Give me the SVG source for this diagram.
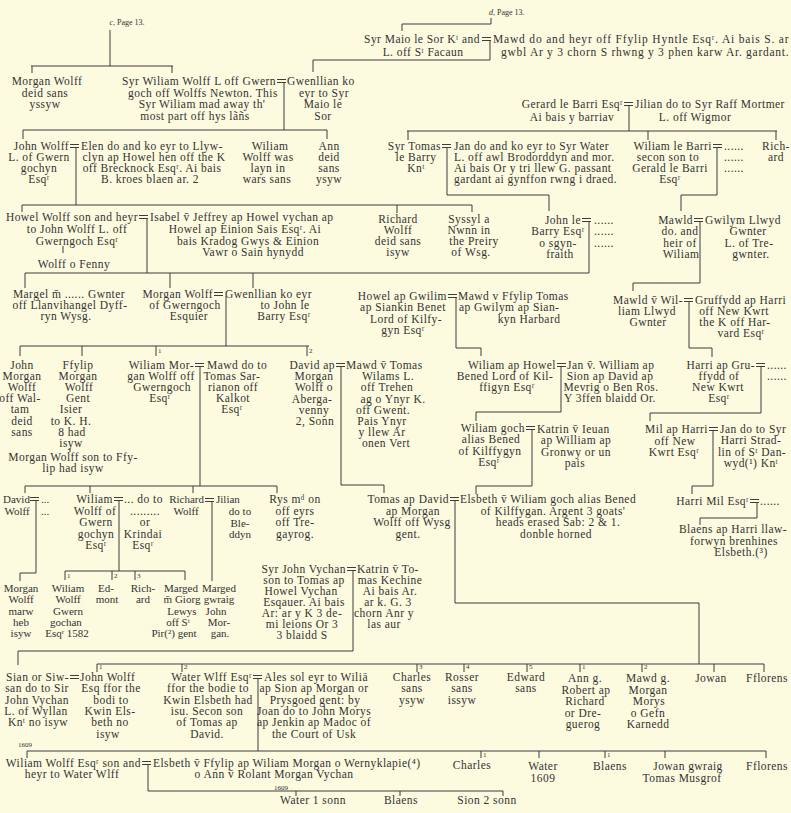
<svg xmlns="http://www.w3.org/2000/svg" width="791" height="813" viewBox="0 0 791 813">
<style>
text{font-family:"Liberation Serif","DejaVu Serif",serif;font-size:11.5px;letter-spacing:0.45px;fill:#333}
.m{text-anchor:middle}
.e{text-anchor:end}
.n{font-size:11px;letter-spacing:0}
.s{font-size:7px;letter-spacing:0}
.p{font-size:8px;letter-spacing:0}
.ln{stroke:#3d3d3d;stroke-width:1;fill:none}
</style>
<defs><path id="eq" d="M0,-1.5H9M0,1.5H9"/></defs>
<rect width="791" height="813" fill="#fcfadf"/>
<g id="connectors" class="ln">
<path d="M110,30V66M31,66H173M32,66V73M172,66V73"/>
<path d="M491,18V24H402V31"/>
<path d="M490,40V60H313V72"/>
<path d="M284,82V130M23,130H327M23,130V139M327,130V139"/>
<path d="M76,147V205M22,205H472M22,205V212M397,205V213M472,205V212"/>
<path d="M447,147V195H549V211"/>
<path d="M629,105V131M407,131H777M408,131V140M648,131V140M776,131V140"/>
<path d="M717,147V195H681V211"/>
<path d="M147,218V273M25,273H589M25,273V288M170,273V288M253,273V288"/>
<path d="M63,246V253"/>
<path d="M589,221V273"/>
<path d="M700,221V283H633V291"/>
<path d="M226,296V346M20,346H309M20,346V356M82,346V356M156,346V356M307,346V356"/>
<path d="M456,297V348H481V356"/>
<path d="M689,301V348H712V357"/>
<path d="M200,366V486M25,486H277M25,486V493M90,486V493M193,486V493M277,486V493"/>
<path d="M341,366V485H384V493"/>
<path d="M561,366V412H476V421"/>
<path d="M761,366V413H650V421"/>
<path d="M70,448V452"/>
<path d="M532,429V486H476V494"/>
<path d="M713,430V486H692V494"/>
<path d="M36,500V573H20V581"/>
<path d="M119,500V571M65,571H185M65,571V580M112,571V580M135,571V580M185,571V580"/>
<path d="M212,501V581"/>
<path d="M455,500V603H699V664"/>
<path d="M757,502V518H700V525"/>
<path d="M353,570V651H18V665"/>
<path d="M97,664H764M97,664V672M182,664V672M417,664V672M464,664V672M527,664V672M580,664V672M642,664V672M714,664V672M764,664V672"/>
<path d="M258,678V751M27,751H766M27,751V758M481,751V758M539,751V758M605,751V758M665,751V758M766,751V758"/>
<path d="M148,764V791H503M296,791V796M400,791V796M503,791V796"/>
<use href="#eq" x="482" y="39"/>
<use href="#eq" x="277" y="81"/>
<use href="#eq" x="70" y="146"/>
<use href="#eq" x="442" y="146"/>
<use href="#eq" x="624" y="104"/>
<use href="#eq" x="713" y="146"/>
<use href="#eq" x="139" y="217"/>
<use href="#eq" x="582" y="220"/>
<use href="#eq" x="694" y="220"/>
<use href="#eq" x="214" y="294"/>
<use href="#eq" x="448" y="296"/>
<use href="#eq" x="684" y="300"/>
<use href="#eq" x="195" y="365"/>
<use href="#eq" x="336" y="365"/>
<use href="#eq" x="557" y="365"/>
<use href="#eq" x="756" y="365"/>
<use href="#eq" x="526" y="428"/>
<use href="#eq" x="709" y="429"/>
<use href="#eq" x="30" y="499"/>
<use href="#eq" x="114" y="499"/>
<use href="#eq" x="205" y="500"/>
<use href="#eq" x="450" y="499"/>
<use href="#eq" x="750" y="501"/>
<use href="#eq" x="347" y="569"/>
<use href="#eq" x="70" y="677"/>
<use href="#eq" x="253" y="677"/>
<use href="#eq" x="142" y="763"/>
</g>
<g id="labels">
<text class="s" x="158" y="353">1</text>
<text class="s" x="309" y="353">2</text>
<text class="s" x="67" y="578">1</text>
<text class="s" x="114" y="578">2</text>
<text class="s" x="137" y="578">3</text>
<text class="s" x="99" y="669">1</text>
<text class="s" x="184" y="669">2</text>
<text class="s" x="419" y="669">3</text>
<text class="s" x="466" y="669">4</text>
<text class="s" x="529" y="669">5</text>
<text class="s" x="582" y="669">1</text>
<text class="s" x="644" y="669">2</text>
<text class="s" x="483" y="757">1</text>
<text class="s" x="607" y="757">1</text>
<text class="s m" x="25" y="747">1609</text>
<text class="s m" x="281" y="790">1609</text>
</g>
<g id="page-c"><text class="m p" x="127" y="25"><tspan font-style="italic">c</tspan>, Page 13.</text></g>
<g id="page-d"><text class="p" x="489" y="15"><tspan font-style="italic">d</tspan>, Page 13.</text></g>
<g id="syr-maio"><text class="e" x="480" y="43">Syr Maio le Sor  Kᵗ and</text><text class="m" x="423" y="56">L. off Sᵗ Facaun</text></g>
<g id="mawd-hyntle"><text x="493" y="43" textLength="296" lengthAdjust="spacing">Mawd do and heyr off Ffylip Hyntle Esqʳ. Ai bais S. ar</text><text x="501" y="56" textLength="288" lengthAdjust="spacing">gwbl Ar y 3 chorn S rhwng y 3 phen karw Ar. gardant.</text></g>
<g id="morgan-wolff-1"><text class="m" x="47" y="85"><tspan x="47">Morgan Wolff</tspan><tspan x="45" dy="11.5">deid sans</tspan><tspan x="45" dy="11.5">yssyw</tspan></text></g>
<g id="syr-wiliam"><text class="e" x="276" y="85">Syr Wiliam Wolff L off Gwern</text><text class="m" x="200" y="96.5"><tspan x="203">goch off Wolffs Newton. This</tspan><tspan x="202" dy="11.5">Syr Wiliam mad away th'</tspan><tspan x="195" dy="11.5">most part off hys lãñs</tspan></text></g>
<g id="gwenllian-maio"><text x="287" y="85">Gwenllian ko</text><text class="m" x="322" y="96.5"><tspan x="324">eyr to Syr</tspan><tspan x="323" dy="11.5">Maio le</tspan><tspan x="323" dy="11.5">Sor</tspan></text></g>
<g id="john-wolff-1"><text class="e" x="69" y="150">John Wolff</text><text class="m" x="39" y="161"><tspan x="39">L. of Gwern</tspan><tspan x="39" dy="11">gochyn</tspan><tspan x="39" dy="11">Esqʳ</tspan></text></g>
<g id="elen"><text x="81" y="150">Elen do and ko eyr to Llyw-</text><text class="m" x="153" y="161"><tspan x="154">clyn ap Howel hen off the K</tspan><tspan x="152" dy="11">off Brecknock Esqʳ.  Ai bais</tspan><tspan x="150" dy="11">B. kroes blaen ar. 2</tspan></text></g>
<g id="wiliam-wolff-1"><text class="m" x="269" y="150"><tspan x="270">Wiliam</tspan><tspan x="268" dy="11">Wolff was</tspan><tspan x="268" dy="11">layn in</tspan><tspan x="267" dy="11">wars sans</tspan></text></g>
<g id="ann"><text class="m" x="329" y="150"><tspan x="329">Ann</tspan><tspan x="329" dy="11">deid</tspan><tspan x="329" dy="11">sans</tspan><tspan x="329" dy="11">ysyw</tspan></text></g>
<g id="syr-tomas"><text class="e" x="441" y="150">Syr Tomas</text><text class="m" x="416" y="161"><tspan x="416">le Barry</tspan><tspan x="416" dy="11">Knᵗ</tspan></text></g>
<g id="jan-water"><text x="454" y="150"><tspan x="454">Jan do and ko eyr to Syr Water</tspan><tspan x="454" dy="11">L. off awl Brodorddyn and mor.</tspan><tspan x="454" dy="11">Ai bais Or y tri llew G. passant</tspan><tspan x="454" dy="11">gardant ai gynffon rwng i draed.</tspan></text></g>
<g id="gerard"><text class="e" x="623" y="108">Gerard le Barri Esqʳ</text><text class="m" x="572" y="121">Ai bais y barriav</text></g>
<g id="jilian-mortmer"><text x="635" y="108">Jilian do to Syr Raff Mortmer</text><text class="m" x="695" y="121">L. off Wigmor</text></g>
<g id="wiliam-barri"><text class="e" x="712" y="150">Wiliam le Barri</text><text class="m" x="670" y="161"><tspan x="668">secon son to</tspan><tspan x="670" dy="11">Gerald le Barri</tspan><tspan x="670" dy="11">Esqʳ</tspan></text><text x="724" y="150"><tspan x="724">......</tspan><tspan x="724" dy="11">......</tspan><tspan x="724" dy="11">......</tspan></text></g>
<g id="richard-1"><text class="m" x="776" y="150"><tspan x="776">Rich-</tspan><tspan x="776" dy="11">ard</tspan></text></g>
<g id="howel-wolff"><text class="e" x="138" y="221">Howel Wolff son and heyr</text><text class="m" x="77" y="233"><tspan x="77">to John Wolff L. off</tspan><tspan x="77" dy="11.5">Gwerngoch Esqʳ</tspan><tspan x="74" dy="23">Wolff o Fenny</tspan></text></g>
<g id="isabel"><text x="150" y="221">Isabel v̄ Jeffrey ap Howel vychan ap</text><text class="m" x="247" y="233"><tspan x="245">Howel ap Einion Sais Esqʳ.  Ai</tspan><tspan x="248" dy="11.5">bais Kradog Gwys &amp; Einion</tspan><tspan x="253" dy="11.5">Vawr o Sain hynydd</tspan></text></g>
<g id="richard-2"><text class="m" x="398" y="223"><tspan x="398">Richard</tspan><tspan x="398" dy="11">Wolff</tspan><tspan x="398" dy="11">deid sans</tspan><tspan x="398" dy="11">isyw</tspan></text></g>
<g id="syssyl"><text class="m" x="471" y="223"><tspan x="469">Syssyl a</tspan><tspan x="469" dy="11">Nwnn in</tspan><tspan x="474" dy="11">the Preiry</tspan><tspan x="471" dy="11">of Wsg.</tspan></text></g>
<g id="john-le-barry"><text class="e" x="581" y="224">John le</text><text class="m" x="558" y="235.3"><tspan x="558">Barry Esqʳ</tspan><tspan x="558" dy="11.3">o sgyn-</tspan><tspan x="560" dy="11.3">fraith</tspan></text><text x="594" y="224"><tspan x="594">......</tspan><tspan x="594" dy="11.3">......</tspan><tspan x="594" dy="11.3">......</tspan></text></g>
<g id="mawld-1"><text class="e" x="693" y="224">Mawld</text><text class="m" x="680" y="235.3"><tspan x="680">do. and</tspan><tspan x="680" dy="11.3">heir of</tspan><tspan x="681" dy="11.3">Wiliam</tspan></text></g>
<g id="gwilym-llwyd"><text x="705" y="224">Gwilym Llwyd</text><text class="m" x="749" y="235.3"><tspan x="748">Gwnter</tspan><tspan x="749" dy="11.3">L. of Tre-</tspan><tspan x="751" dy="11.3">gwnter.</tspan></text></g>
<g id="margel"><text class="m" x="69" y="298"><tspan x="69">Margel m̄ ...... Gwnter</tspan><tspan x="70" dy="11">off Llanvihangel Dyff-</tspan><tspan x="66" dy="11">ryn Wysg.</tspan></text></g>
<g id="morgan-wolff-2"><text class="e" x="213" y="298">Morgan Wolff</text><text class="m" x="185" y="309"><tspan x="185">of Gwerngoch</tspan><tspan x="189" dy="11">Esquier</tspan></text></g>
<g id="gwenllian-barry"><text x="225" y="298">Gwenllian ko eyr</text><text class="m" x="285" y="309"><tspan x="285">to John le</tspan><tspan x="284" dy="11">Barry Esqʳ</tspan></text></g>
<g id="howel-gwilim"><text class="e" x="447" y="300">Howel ap Gwilim</text><text class="m" x="404" y="311.3"><tspan x="403">ap Siankin Benet</tspan><tspan x="406" dy="11.3">Lord of Kilfy-</tspan><tspan x="403" dy="11.3">gyn Esqʳ</tspan></text></g>
<g id="mawd-ffylip"><text x="458" y="300">Mawd v Ffylip Tomas</text><text x="459" y="311.3">ap Gwilym ap Sian-</text><text class="m" x="529" y="322.6">kyn Harbard</text></g>
<g id="mawld-wil"><text class="e" x="683" y="304">Mawld v̄ Wil-</text><text class="m" x="648" y="315"><tspan x="647">liam Llwyd</tspan><tspan x="648" dy="11">Gwnter</tspan></text></g>
<g id="gruffydd"><text x="695" y="304">Gruffydd ap Harri</text><text class="m" x="737" y="315"><tspan x="734">off New Kwrt</tspan><tspan x="735" dy="11">the K off Har-</tspan><tspan x="741" dy="11">vard Esqʳ</tspan></text></g>
<g id="john-morgan"><text class="m" x="22" y="369"><tspan x="22">John</tspan><tspan x="22" dy="11.1">Morgan</tspan><tspan x="22" dy="11.1">Wolff</tspan><tspan x="20" dy="11.1">off Wal-</tspan><tspan x="20" dy="11.1">tam</tspan><tspan x="22" dy="11.1">deid</tspan><tspan x="22" dy="11.1">sans</tspan></text></g>
<g id="ffylip"><text class="m" x="76" y="369"><tspan x="78">Ffylip</tspan><tspan x="78" dy="11.1">Morgan</tspan><tspan x="79" dy="11.1">Wolff</tspan><tspan x="78" dy="11.1">Gent</tspan><tspan x="71" dy="11.1">Isier</tspan><tspan x="71" dy="11.1">to K. H.</tspan><tspan x="72" dy="11.1">8 had</tspan><tspan x="71" dy="11.1">isyw</tspan></text></g>
<g id="morgan-son-ffylip"><text class="m" x="73" y="461"><tspan x="73">Morgan Wolff son to Ffy-</tspan><tspan x="73" dy="11">lip had isyw</tspan></text></g>
<g id="wiliam-mor"><text class="e" x="194" y="369">Wiliam Mor-</text><text class="m" x="161" y="380"><tspan x="161">gan Wolff off</tspan><tspan x="162" dy="11">Gwerngoch</tspan><tspan x="160" dy="11">Esqʳ</tspan></text></g>
<g id="mawd-sarrianon"><text x="207" y="369">Mawd do to</text><text class="m" x="233" y="380"><tspan x="232">Tomas Sar-</tspan><tspan x="233" dy="11">rianon off</tspan><tspan x="233" dy="11">Kalkot</tspan><tspan x="232" dy="11">Esqʳ</tspan></text></g>
<g id="david-ap"><text class="e" x="335" y="369">David ap</text><text class="m" x="313" y="380.2"><tspan x="314">Morgan</tspan><tspan x="314" dy="11.2">Wolff o</tspan><tspan x="312" dy="11.2">Aberga-</tspan><tspan x="314" dy="11.2">venny</tspan><tspan x="315" dy="11.2">2, Sonn</tspan></text></g>
<g id="mawd-tomas"><text x="346" y="369">Mawd v̄ Tomas</text><text class="m" x="387" y="380.2"><tspan x="388">Wilams L.</tspan><tspan x="387" dy="11.2">off Trehen</tspan><tspan x="393" dy="11.2">ag o Ynyr K.</tspan><tspan x="383" dy="11.2">off Gwent.</tspan><tspan x="382" dy="11.2">Pais Ynyr</tspan><tspan x="382" dy="11.2">y llew Ar</tspan><tspan x="386" dy="11.2">onen Vert</tspan></text></g>
<g id="wiliam-howel"><text class="e" x="556" y="369">Wiliam ap Howel</text><text class="m" x="506" y="380"><tspan x="505">Bened Lord of Kil-</tspan><tspan x="507" dy="11">ffigyn Esqʳ</tspan></text></g>
<g id="jan-william"><text x="567" y="369">Jan v̄. William ap</text><text class="m" x="610" y="380"><tspan x="610">Sion ap David ap</tspan><tspan x="611" dy="11">Mevrig o Ben Ros.</tspan><tspan x="610" dy="11">Y 3ffen blaidd Or.</tspan></text></g>
<g id="harri-gru"><text class="e" x="755" y="369">Harri ap Gru-</text><text class="m" x="719" y="380"><tspan x="719">ffydd of</tspan><tspan x="718" dy="11">New Kwrt</tspan><tspan x="719" dy="11">Esqʳ</tspan></text><text x="767" y="369"><tspan x="767">......</tspan><tspan x="767" dy="11">......</tspan></text></g>
<g id="wiliam-goch"><text class="e" x="525" y="432">Wiliam goch</text><text class="m" x="490" y="443.3"><tspan x="491">alias Bened</tspan><tspan x="490" dy="11.3">of Kilffygyn</tspan><tspan x="489" dy="11.3">Esqʳ</tspan></text></g>
<g id="katrin-ieuan"><text x="537" y="433">Katrin v̄ Ieuan</text><text class="m" x="576" y="444.3"><tspan x="576">ap William ap</tspan><tspan x="576" dy="11.3">Gronwy or un</tspan><tspan x="575" dy="11.3">pais</tspan></text></g>
<g id="mil-harri"><text class="e" x="708" y="433">Mil ap Harri</text><text class="m" x="675" y="444.5"><tspan x="675">off New</tspan><tspan x="674" dy="11.5">Kwrt Esqʳ</tspan></text></g>
<g id="jan-stradlin"><text x="720" y="433">Jan do to Syr</text><text class="m" x="752" y="444.3"><tspan x="751">Harri Strad-</tspan><tspan x="752" dy="11.3">lin of Sᵗ Dan-</tspan><tspan x="751" dy="11.3">wyd(¹) Knᵗ</tspan></text></g>
<g id="david-wolff"><text class="n" x="3" y="503">David</text><text class="n" x="41" y="503">...</text><text class="m n" x="17" y="515">Wolff</text><text class="n" x="41" y="515">...</text></g>
<g id="wiliam-gwern"><text class="e" x="113" y="503">Wiliam</text><text class="m" x="95" y="514.5"><tspan x="95">Wolff of</tspan><tspan x="96" dy="11.5">Gwern</tspan><tspan x="96" dy="11.5">gochyn</tspan><tspan x="96" dy="11.5">Esqʳ</tspan></text></g>
<g id="do-to-krindai"><text x="124" y="503">... do to</text><text class="m" x="145" y="514.5"><tspan x="145">.........</tspan><tspan x="145" dy="11.5">or</tspan><tspan x="143" dy="11.5">Krindai</tspan><tspan x="143" dy="11.5">Esqʳ</tspan></text></g>
<g id="richard-wolff-3"><text class="e n" x="204" y="503">Richard</text><text class="m n" x="186" y="515">Wolff</text></g>
<g id="jilian-bleddyn"><text class="n" x="216" y="503">Jilian</text><text class="m n" x="240" y="515"><tspan x="240">do to</tspan><tspan x="240" dy="11.5">Ble-</tspan><tspan x="240" dy="11.5">ddyn</tspan></text></g>
<g id="rys"><text class="m" x="295" y="503"><tspan x="295">Rys mᵈ on</tspan><tspan x="295" dy="11.5">off eyrs</tspan><tspan x="295" dy="11.5">off Tre-</tspan><tspan x="295" dy="11.5">gayrog.</tspan></text></g>
<g id="tomas-david"><text class="e" x="449" y="503">Tomas ap David</text><text class="m" x="412" y="514.5"><tspan x="413">ap  Morgan</tspan><tspan x="412" dy="11.5">Wolff off Wysg</tspan><tspan x="408" dy="11.5">gent.</tspan></text></g>
<g id="elsbeth-goch"><text x="460" y="503">Elsbeth v̄ Wiliam goch alias Bened</text><text class="m" x="553" y="514.5"><tspan x="553">of Kilffygan.  Argent 3 goats'</tspan><tspan x="558" dy="11.5">heads erased Sab: 2 &amp; 1.</tspan><tspan x="556" dy="11.5">donble horned</tspan></text></g>
<g id="harri-mil"><text class="e" x="749" y="505">Harri Mil Esqʳ</text><text x="760" y="505">......</text></g>
<g id="blaens-1"><text class="m" x="734" y="533"><tspan x="733">Blaens ap Harri llaw-</tspan><tspan x="734" dy="11.5">forwyn brenhines</tspan><tspan x="741" dy="11.5">Elsbeth.(³)</tspan></text></g>
<g id="syr-john-vychan"><text class="e" x="346" y="573">Syr John Vychan</text><text class="m" x="303" y="584"><tspan x="304">son to Tomas ap</tspan><tspan x="301" dy="11">Howel Vychan</tspan><tspan x="304" dy="11">Esqauer. Ai bais</tspan><tspan x="302" dy="11">Ar: ar y K 3 de-</tspan><tspan x="302" dy="11">mi leions Or 3</tspan><tspan x="302" dy="11">3 blaidd S</tspan></text></g>
<g id="katrin-kechine"><text x="357" y="573">Katrin v̄ To-</text><text class="m" x="389" y="584"><tspan x="390">mas Kechine</tspan><tspan x="390" dy="11">Ai bais Ar.</tspan><tspan x="388" dy="11">ar k. G. 3</tspan><tspan x="384" dy="11">chorn Anr y</tspan><tspan x="384" dy="11">las aur</tspan></text></g>
<g id="morgan-marw"><text class="m n" x="21" y="592"><tspan x="21">Morgan</tspan><tspan x="21" dy="11.3">Wolff</tspan><tspan x="21" dy="11.3">marw</tspan><tspan x="21" dy="11.3">heb</tspan><tspan x="21" dy="11.3">isyw</tspan></text></g>
<g id="wiliam-gochan"><text class="m n" x="68" y="592"><tspan x="68">Wiliam</tspan><tspan x="68" dy="11.3">Wolff</tspan><tspan x="68" dy="11.3">Gwern</tspan><tspan x="66" dy="11.3">gochan</tspan><tspan x="67" dy="11.3">Esqʳ 1582</tspan></text></g>
<g id="edmont"><text class="m n" x="107" y="592"><tspan x="106">Ed-</tspan><tspan x="107" dy="11.3">mont</tspan></text></g>
<g id="richard-4"><text class="m n" x="143" y="592"><tspan x="143">Rich-</tspan><tspan x="143" dy="11.3">ard</tspan></text></g>
<g id="marged-giorg"><text class="m n" x="181" y="592"><tspan x="181">Marged</tspan><tspan x="182" dy="11.3">m̄ Giorg</tspan><tspan x="182" dy="11.3">Lewys</tspan><tspan x="178" dy="11.3">off Sᵗ</tspan><tspan x="174" dy="11.3">Pir(²) gent</tspan></text></g>
<g id="marged-gwraig"><text class="m n" x="219" y="592"><tspan x="219">Marged</tspan><tspan x="219" dy="11.3">gwraig</tspan><tspan x="216" dy="11.3">John</tspan><tspan x="219" dy="11.3">Mor-</tspan><tspan x="220" dy="11.3">gan.</tspan></text></g>
<g id="sian"><text class="e" x="69" y="681">Sian or Siw-</text><text class="m" x="37" y="692.3"><tspan x="37">san do to Sir</tspan><tspan x="37" dy="11.3">John Vychan</tspan><tspan x="36" dy="11.3">L. of Wyllan</tspan><tspan x="38" dy="11.3">Knᵗ no isyw</tspan></text></g>
<g id="john-wolff-3"><text x="80" y="681">John Wolff</text><text class="m" x="111" y="692.3"><tspan x="111">Esq ffor the</tspan><tspan x="111" dy="11.3">bodi to</tspan><tspan x="110" dy="11.3">Kwin Els-</tspan><tspan x="110" dy="11.3">beth no</tspan><tspan x="108" dy="11.3">isyw</tspan></text></g>
<g id="water-wlff"><text class="e" x="252" y="681">Water Wlff Esqʳ</text><text class="m" x="208" y="692.3"><tspan x="208">ffor the bodie to</tspan><tspan x="208" dy="11.3">Kwin Elsbeth had</tspan><tspan x="207" dy="11.3">isu.  Secon son</tspan><tspan x="207" dy="11.3">of Tomas ap</tspan><tspan x="207" dy="11.3">David.</tspan></text></g>
<g id="ales"><text x="264" y="681">Ales sol eyr to Wiliā</text><text class="m" x="314" y="692.3"><tspan x="314">ap Sion ap Morgan or</tspan><tspan x="315" dy="11.3">Prysgoed gent: by</tspan><tspan x="314" dy="11.3">Joan do to John Morys</tspan><tspan x="314" dy="11.3">ap Jenkin ap Madoc of</tspan><tspan x="314" dy="11.3">the Court of Usk</tspan></text></g>
<g id="charles-3"><text class="m" x="412" y="681"><tspan x="412">Charles</tspan><tspan x="412" dy="11.3">sans</tspan><tspan x="412" dy="11.3">ysyw</tspan></text></g>
<g id="rosser"><text class="m" x="462" y="681"><tspan x="462">Rosser</tspan><tspan x="462" dy="11.3">sans</tspan><tspan x="462" dy="11.3">issyw</tspan></text></g>
<g id="edward"><text class="m" x="526" y="681"><tspan x="526">Edward</tspan><tspan x="526" dy="11.3">sans</tspan></text></g>
<g id="ann-g"><text class="m" x="585" y="682"><tspan x="585">Ann g.</tspan><tspan x="586" dy="11.5">Robert ap</tspan><tspan x="585" dy="11.5">Richard</tspan><tspan x="583" dy="11.5">or Dre-</tspan><tspan x="583" dy="11.5">guerog</tspan></text></g>
<g id="mawd-g"><text class="m" x="648" y="682"><tspan x="648">Mawd g.</tspan><tspan x="648" dy="11.5">Morgan</tspan><tspan x="649" dy="11.5">Morys</tspan><tspan x="648" dy="11.5">o Gefn</tspan><tspan x="648" dy="11.5">Karnedd</tspan></text></g>
<g id="jowan"><text class="m" x="711" y="682">Jowan</text></g>
<g id="fflorens"><text class="m" x="767" y="682">Fflorens</text></g>
<g id="wiliam-wolff-esq"><text class="e" x="141" y="767">Wiliam Wolff Esqʳ son and</text><text class="m" x="72" y="778">heyr to Water Wlff</text></g>
<g id="elsbeth-ffylip"><text x="153" y="767">Elsbeth v̄ Ffylip ap Wiliam Morgan o Wernyklapie(⁴)</text><text class="m" x="274" y="778">o Ann v̄ Rolant Morgan Vychan</text></g>
<g id="charles-1"><text class="m" x="472" y="769">Charles</text></g>
<g id="water-1609"><text class="m" x="543" y="770"><tspan x="543">Water</tspan><tspan x="543" dy="11.5">1609</tspan></text></g>
<g id="blaens-2"><text class="m" x="610" y="770">Blaens</text></g>
<g id="jowan-gwraig"><text class="m" x="686" y="770"><tspan x="688">Jowan gwraig</tspan><tspan x="682" dy="12">Tomas Musgrof</tspan></text></g>
<g id="fflorens-2"><text class="m" x="767" y="770">Fflorens</text></g>
<g id="water-1-sonn"><text class="m" x="313" y="804">Water 1 sonn</text></g>
<g id="blaens-3"><text class="m" x="401" y="804">Blaens</text></g>
<g id="sion-2-sonn"><text class="m" x="487" y="804">Sion 2 sonn</text></g>
</svg>
